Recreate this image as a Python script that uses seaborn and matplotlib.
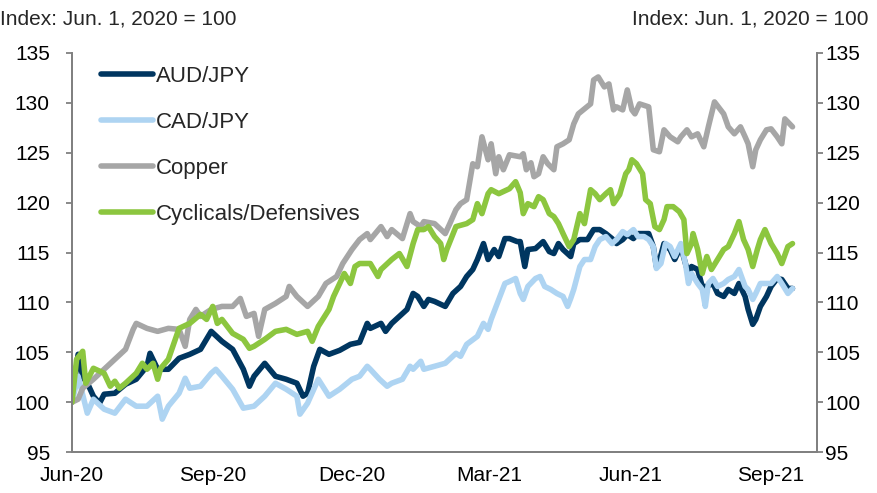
import matplotlib
matplotlib.use("Agg")
import matplotlib.pyplot as plt
import matplotlib.dates as mdates
import pandas as pd
import seaborn as sns

start = pd.Timestamp("2020-06-01")

aud_days = [0, 4, 7, 11, 14, 18, 21, 28, 35, 42, 49, 51, 56, 63, 70, 77, 84, 91, 98, 105, 112, 116, 119, 126, 133, 140, 147, 151, 154, 158, 162, 168, 175, 182, 188,
            193, 195, 202, 205, 209, 214, 219, 223, 226, 230, 233, 237, 244, 249, 254, 258, 262, 265, 269, 272, 276, 279, 283, 286, 291,
            293, 296, 298, 303, 308, 312, 315, 318, 321, 326, 328, 332, 337, 341, 345, 349, 353, 356, 360, 363, 367, 370, 374, 377, 380, 382, 384, 387, 391, 394, 398, 401, 403, 405, 409, 412, 415, 419, 422, 426, 429, 433, 436, 440, 442, 445, 447, 450, 454, 457, 461, 464, 468, 471]
aud_vals = [100.0, 104.8, 102.6, 101.6, 100.6, 99.9, 100.8, 100.9, 101.8, 102.3, 103.6, 104.9, 103.3, 103.3, 104.4, 104.8, 105.3, 107.1, 106.1, 105.3, 103.3, 101.6, 102.6, 103.9, 102.6, 102.3, 101.9, 100.6, 100.9, 103.6, 105.3, 104.8, 105.2, 105.8, 106.0,
            107.9, 107.4, 107.9, 107.1, 107.9, 108.6, 109.3, 110.9, 110.6, 109.6, 110.3, 110.1, 109.6, 110.9, 111.6, 112.6, 113.3, 114.3, 115.9, 114.3, 115.3, 114.6, 116.4, 116.4, 116.1,
            116.1, 113.6, 115.3, 115.4, 116.1, 115.1, 114.9, 115.9, 115.3, 114.6, 115.9, 116.3, 116.3, 117.3, 117.3, 116.9, 116.4, 115.9, 116.3, 116.8, 116.4, 116.9, 116.9, 116.9, 115.6, 113.6, 114.2, 115.9, 115.3, 114.3, 115.6, 113.9, 112.9, 113.6, 113.3, 111.6, 111.6, 111.9, 110.9, 110.6, 111.3, 110.9, 111.9, 110.6, 109.3, 107.8, 108.3, 109.6, 110.6, 111.6, 112.4, 112.3, 111.4, 111.4]

cad_days = [0, 4, 10, 14, 21, 28, 35, 42, 49, 56, 59, 63, 70, 74, 77, 84, 91, 94, 98, 105, 112, 119, 126, 133, 140, 147, 149, 154, 161, 168, 175,
            183, 188, 193, 195, 201, 206, 209, 216, 221, 223, 228, 230, 237, 244, 251, 254, 258, 265, 269, 272, 274, 279, 283, 286, 290, 293,
            295, 298, 303, 306, 309, 313, 317, 321, 324, 326, 328, 332, 335, 339, 342, 345, 349, 353, 356, 360, 363, 367, 370, 374, 377, 380, 382, 385, 388, 391, 394, 398, 401, 403, 405, 409, 412, 414, 416, 419, 422, 426, 429, 433, 436, 440, 442, 445, 447, 450, 454, 457, 461, 464, 468, 471]
cad_vals = [100.0, 102.6, 98.9, 100.3, 99.3, 98.9, 100.3, 99.6, 99.6, 100.6, 98.3, 99.6, 100.9, 102.4, 101.4, 101.6, 102.9, 103.3, 102.6, 101.3, 99.4, 99.6, 100.6, 101.9, 101.3, 100.6, 98.8, 99.9, 102.3, 100.6, 101.3,
            102.3, 102.6, 103.6, 103.3, 102.3, 101.6, 101.9, 102.3, 103.6, 103.3, 104.1, 103.3, 103.6, 103.9, 104.9, 104.6, 105.8, 106.6, 107.9, 107.3, 108.3, 110.3, 111.9, 112.1, 112.4, 110.9,
            110.3, 111.6, 112.4, 112.6, 111.6, 111.3, 110.9, 110.6, 109.6, 110.4, 111.3, 113.6, 114.3, 114.3, 115.6, 116.3, 116.6, 115.9, 116.3, 117.1, 116.8, 117.3, 116.6, 116.6, 116.3, 115.6, 113.4, 113.9, 115.9, 115.6, 114.6, 115.9, 113.9, 111.9, 112.9, 111.9, 111.3, 109.6, 111.9, 112.4, 111.6, 111.9, 112.3, 112.6, 113.3, 111.6, 111.3, 110.3, 110.9, 111.9, 111.9, 111.9, 112.6, 111.9, 110.9, 111.4]

cu_days = [0, 4, 7, 14, 21, 28, 35, 40, 42, 49, 56, 63, 70, 74, 77, 81, 84, 91, 98, 105, 110, 114, 119, 122, 126, 133, 140, 142, 147, 154, 161, 166, 173, 177, 183, 188,
           193, 195, 202, 206, 209, 216, 221, 223, 228, 230, 237, 244, 247, 251, 254, 258, 262, 265, 268, 272, 274, 277, 279, 282, 286,
           293, 295, 297, 300, 302, 305, 308, 311, 315, 317, 321, 325, 328, 331, 335, 339, 341, 344, 348, 351, 354, 356, 360, 363, 366, 368, 371, 377, 380, 384, 387, 391, 396, 398, 402, 405, 409, 413, 416, 420, 424, 426, 429, 433, 437, 440, 442, 445, 447, 450, 454, 457, 461, 464, 466, 471]
cu_vals = [100.0, 100.3, 101.4, 102.3, 103.3, 104.3, 105.3, 107.3, 107.9, 107.4, 107.1, 107.4, 107.3, 105.6, 108.3, 109.3, 108.6, 109.3, 109.6, 109.6, 110.4, 108.6, 108.9, 106.6, 109.3, 109.9, 110.6, 111.6, 110.6, 109.6, 110.6, 111.9, 112.6, 113.9, 115.3, 116.3,
           116.9, 116.3, 117.6, 116.6, 117.3, 116.4, 118.9, 118.1, 117.6, 118.1, 117.9, 116.9, 117.9, 119.3, 119.9, 120.3, 123.9, 123.6, 126.6, 124.3, 125.9, 122.9, 124.6, 123.3, 124.8,
           124.6, 124.9, 123.3, 124.0, 122.6, 122.9, 124.6, 123.9, 123.3, 125.6, 125.9, 126.3, 127.9, 128.9, 129.4, 129.9, 132.3, 132.6, 131.6, 131.9, 129.3, 129.6, 129.3, 131.3, 129.3, 128.9, 129.9, 129.6, 125.3, 125.1, 127.3, 126.6, 126.1, 126.6, 127.3, 126.6, 126.9, 125.6, 127.6, 130.1, 129.3, 128.9, 127.6, 126.9, 127.6, 126.6, 125.9, 123.6, 125.3, 126.3, 127.3, 127.4, 126.6, 125.9, 128.4, 127.6]

cyc_days = [0, 3, 7, 9, 14, 21, 25, 28, 31, 35, 42, 46, 49, 53, 56, 58, 63, 70, 77, 84, 88, 92, 95, 98, 105, 112, 116, 119, 126, 133, 140, 147, 154, 157, 161, 168, 171, 175, 178, 182, 185, 188,
            195, 200, 202, 209, 214, 219, 223, 226, 230, 233, 237, 241, 243, 245, 251, 258, 262, 265, 268, 272, 274, 279, 286, 290,
            293, 295, 298, 302, 305, 308, 312, 315, 318, 321, 325, 328, 332, 335, 339, 342, 345, 349, 352, 354, 358, 362, 364, 366, 369, 373, 375, 378, 381, 384, 387, 389, 393, 397, 400, 402, 405, 406, 409, 412, 415, 418, 422, 426, 429, 433, 436, 439, 442, 445, 448, 450, 453, 457, 461, 464, 468, 471]
cyc_vals = [100.0, 104.3, 105.1, 101.9, 103.4, 102.9, 101.6, 102.1, 101.4, 101.9, 102.9, 103.9, 103.3, 103.9, 102.3, 103.4, 104.3, 107.4, 107.9, 108.8, 108.3, 109.6, 107.9, 108.3, 106.9, 106.3, 105.4, 105.6, 106.3, 107.1, 107.3, 106.8, 107.1, 106.1, 107.6, 109.3, 110.6, 111.9, 112.9, 111.9, 113.6, 113.9,
            113.9, 112.6, 113.3, 114.3, 114.9, 113.6, 115.9, 117.3, 117.3, 117.6, 116.6, 115.9, 114.3, 115.3, 117.6, 117.9, 118.3, 119.9, 118.9, 120.9, 121.3, 120.9, 121.4, 122.1,
            121.0, 118.9, 119.9, 119.6, 120.6, 120.3, 118.9, 118.6, 117.9, 116.9, 115.6, 116.3, 118.9, 117.9, 121.3, 120.9, 120.3, 120.9, 121.3, 119.9, 120.8, 122.9, 123.3, 124.3, 123.9, 122.9, 120.3, 119.9, 117.6, 117.3, 118.3, 119.6, 119.6, 119.1, 118.3, 114.9, 115.9, 116.9, 115.3, 112.9, 114.6, 113.3, 114.3, 115.3, 115.6, 116.9, 118.1, 116.3, 115.3, 113.6, 115.3, 116.3, 117.3, 115.9, 114.9, 113.9, 115.6, 115.9]

series_names = ["AUD/JPY", "CAD/JPY", "Copper", "Cyclicals/Defensives"]
colors = ["#003660", "#AED4F2", "#A6A6A6", "#8CC63F"]
x_ticks = ["2020-06-01", "2020-09-01", "2020-12-01", "2021-03-01", "2021-06-01", "2021-09-01"]
y_ticks = [95, 100, 105, 110, 115, 120, 125, 130, 135]
header = "Index: Jun. 1, 2020 = 100"

frames = []
for name, d, v in zip(series_names, [aud_days, cad_days, cu_days, cyc_days],
                      [aud_vals, cad_vals, cu_vals, cyc_vals]):
    frames.append(pd.DataFrame({"date": start + pd.to_timedelta(d, unit="D"),
                                "value": v, "series": name}))
df = pd.concat(frames, ignore_index=True)

sns.set_style("white")
plt.rcParams["font.family"] = ["Liberation Sans", "DejaVu Sans"]

fig = plt.figure(figsize=(8.78, 4.93), dpi=100)
ax = fig.add_axes([0.082, 0.083, 0.8485, 0.8095])

sns.lineplot(data=df, x="date", y="value", hue="series", hue_order=series_names,
             palette=colors, linewidth=4, estimator=None, sort=True, ax=ax)

grey = "#808080"
ax.set_xlim(pd.Timestamp("2020-06-01"), pd.Timestamp("2021-10-01"))
ax.set_ylim(95, 135)
ax.set_yticks(y_ticks)
ax.set_xticks(pd.to_datetime(x_ticks))
ax.xaxis.set_major_formatter(mdates.DateFormatter("%b-%y"))
ax.set_xlabel("")
ax.set_ylabel("")

ax2 = ax.twinx()
ax2.set_ylim(95, 135)
ax2.set_yticks(y_ticks)

for a in (ax, ax2):
    for s in a.spines.values():
        s.set_color(grey)
        s.set_linewidth(1.3)
    a.spines["top"].set_visible(False)
    a.tick_params(axis="both", direction="out", length=4, width=1.3, color=grey,
                  labelsize=15, labelcolor="black", pad=3)
ax.tick_params(axis="x", pad=6)
ax.tick_params(axis="y", pad=12)
ax2.tick_params(axis="y", pad=2)

h, l = ax.get_legend_handles_labels()
ax.get_legend().remove()
leg = ax.legend(h, l, loc="upper left", bbox_to_anchor=(0.039, 0.968), frameon=False,
                fontsize=16, handlelength=2.35, handletextpad=0.12, labelspacing=1.13,
                borderpad=0, borderaxespad=0)
for line in leg.get_lines():
    line.set_linewidth(4)

fig.text(0.0, 0.962, header, ha="left", va="center", fontsize=15)
fig.text(0.989, 0.962, header, ha="right", va="center", fontsize=15)

fig.savefig("out.png", dpi=100)
